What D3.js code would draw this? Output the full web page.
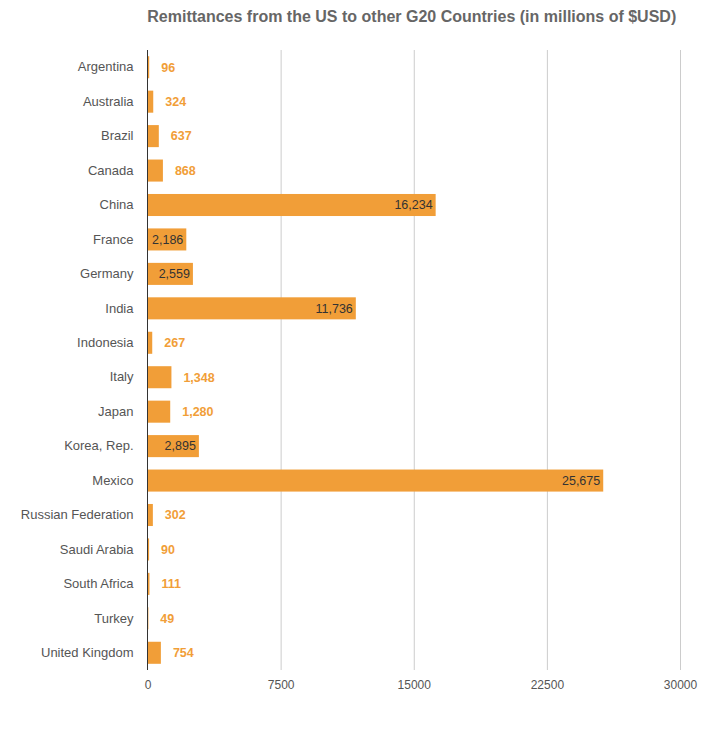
<!DOCTYPE html>
<html><head><meta charset="utf-8">
<script src="https://cdn.jsdelivr.net/npm/d3@7"></script>
<style>body{margin:0;background:#fff;font-family:Arial,"Liberation Sans",sans-serif;}</style>
</head><body><svg id="c" width="725" height="732"></svg>
<script>
const countries = ["Argentina","Australia","Brazil","Canada","China","France","Germany","India","Indonesia","Italy","Japan","Korea, Rep.","Mexico","Russian Federation","Saudi Arabia","South Africa","Turkey","United Kingdom"];
const remittances = [96,324,637,868,16234,2186,2559,11736,267,1348,1280,2895,25675,302,90,111,49,754];
const xTicks = [0,7500,15000,22500,30000];
const title = "Remittances from the US to other G20 Countries (in millions of $USD)";

const svg = d3.select("#c");
const mLeft = 147.5, mRight = 680, mTop = 50, mBottom = 670;
const x = d3.scaleLinear().domain([0,30000]).range([mLeft,mRight]);
const y = d3.scaleBand().domain(countries).range([mTop,mBottom]).paddingInner(0.36).paddingOuter(0.18);
const fmt = d3.format(",");
const orange = "#F19E38";

svg.append("text").attr("x",(mLeft+mRight)/2 - 2).attr("y",22).attr("text-anchor","middle")
  .attr("font-size",16).attr("font-weight","bold").attr("fill","#666").text(title);

// grid
svg.append("g").selectAll("line").data(xTicks.slice(1)).join("line")
  .attr("x1",d=>x(d)+0.5).attr("x2",d=>x(d)+0.5).attr("y1",mTop).attr("y2",mBottom)
  .attr("stroke","#ccc").attr("stroke-width",1);

// x axis labels
const xa = svg.append("g").attr("transform",`translate(0,${mBottom})`)
  .call(d3.axisBottom(x).tickValues(xTicks).tickFormat(d=>String(d)).tickSize(0).tickPadding(10));
xa.select(".domain").remove();
xa.selectAll("text").attr("font-size",12).attr("fill","#555").attr("font-family","Arial, 'Liberation Sans', sans-serif");

// y axis labels
const ya = svg.append("g").attr("transform",`translate(${mLeft},0)`)
  .call(d3.axisLeft(y).tickSize(0).tickPadding(14));
ya.select(".domain").remove();
ya.selectAll("text").attr("font-size",13).attr("fill","#555").attr("font-family","Arial, 'Liberation Sans', sans-serif");

// bars
const data = countries.map((c,i)=>({c, v: remittances[i]}));
svg.append("g").selectAll("rect").data(data).join("rect")
  .attr("x",x(0)).attr("y",d=>y(d.c)).attr("width",d=>x(d.v)-x(0)).attr("height",y.bandwidth())
  .attr("fill",orange);

// labels
svg.append("g").selectAll("text").data(data).join("text")
  .attr("x",d=> d.v>2000 ? x(d.v)-3 : x(d.v)+12)
  .attr("y",d=>y(d.c)+y.bandwidth()/2)
  .attr("dy","0.35em")
  .attr("text-anchor",d=> d.v>2000 ? "end" : "start")
  .attr("font-size",12.5)
  .attr("font-weight",d=> d.v>2000 ? "normal" : "bold")
  .attr("fill",d=> d.v>2000 ? "#333" : orange)
  .text(d=>fmt(d.v));

// zero axis line
svg.append("line").attr("x1",x(0)).attr("x2",x(0)).attr("y1",mTop).attr("y2",mBottom)
  .attr("stroke","#333").attr("stroke-width",1);
</script></body></html>
